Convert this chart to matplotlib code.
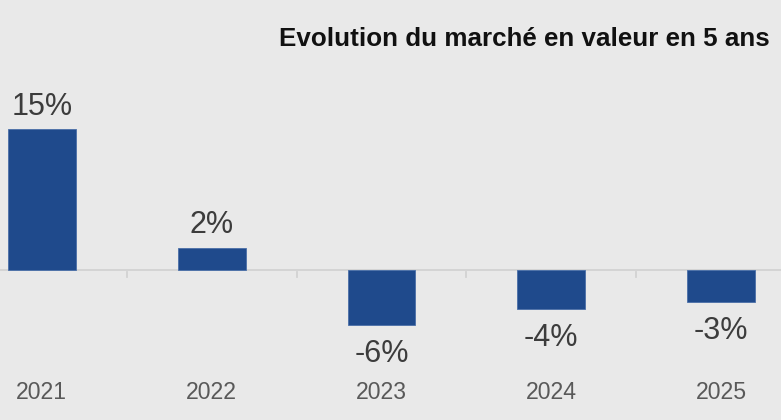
import matplotlib
matplotlib.use("Agg")
import matplotlib.pyplot as plt

years = ["2021", "2022", "2023", "2024", "2025"]
values = [15.0, 2.38, -5.83, -4.16, -3.44]
labels = ["15%", "2%", "-6%", "-4%", "-3%"]
title = "Evolution du marché en valeur en 5 ans"

bg = "#e9e9e9"
bar_color = "#1f4a8c"
font = ["Liberation Sans", "DejaVu Sans"]

fig = plt.figure(figsize=(7.81, 4.20), dpi=100, facecolor=bg)
ax = fig.add_axes([0, 0, 1, 1])
ax.set_facecolor(bg)

x = list(range(len(years)))
ax.bar(x, values, width=0.40, color=bar_color, edgecolor="#4a6fa8", linewidth=0.6, zorder=3)

ax.set_xlim(-0.246, 4.352)
ax.set_ylim(-15.99, 28.78)

# zero line
ax.axhline(0, color="#d2d2d2", linewidth=1.3, zorder=2)
# category separator ticks
for b in [0.5, 1.5, 2.5, 3.5]:
    ax.plot([b, b], [-0.18, -0.78], color="#d2d2d2", linewidth=1.3, zorder=2)

for xi, v, lab in zip(x, values, labels):
    if v >= 0:
        ax.annotate(lab, (xi, v), xytext=(0, 10.3), textcoords="offset points",
                    ha="center", va="baseline", fontsize=22, color="#3c3c3c", family=font)
    else:
        ax.annotate(lab, (xi, v), xytext=(0, -26.8), textcoords="offset points",
                    ha="center", va="baseline", fontsize=22, color="#3c3c3c", family=font)

tr = ax.get_xaxis_transform()
for xi, y in zip(x, years):
    ax.text(xi, 1 - 392.5 / 420, y, transform=tr, ha="center", va="center",
            fontsize=16.6, color="#595959", family=font)

fig.text(770 / 781, 1 - 39 / 420, title, ha="right", va="center", fontsize=18.7,
         fontweight="bold", color="#111111", family=font)

ax.axis("off")
fig.savefig("out.png", dpi=100, facecolor=bg)
